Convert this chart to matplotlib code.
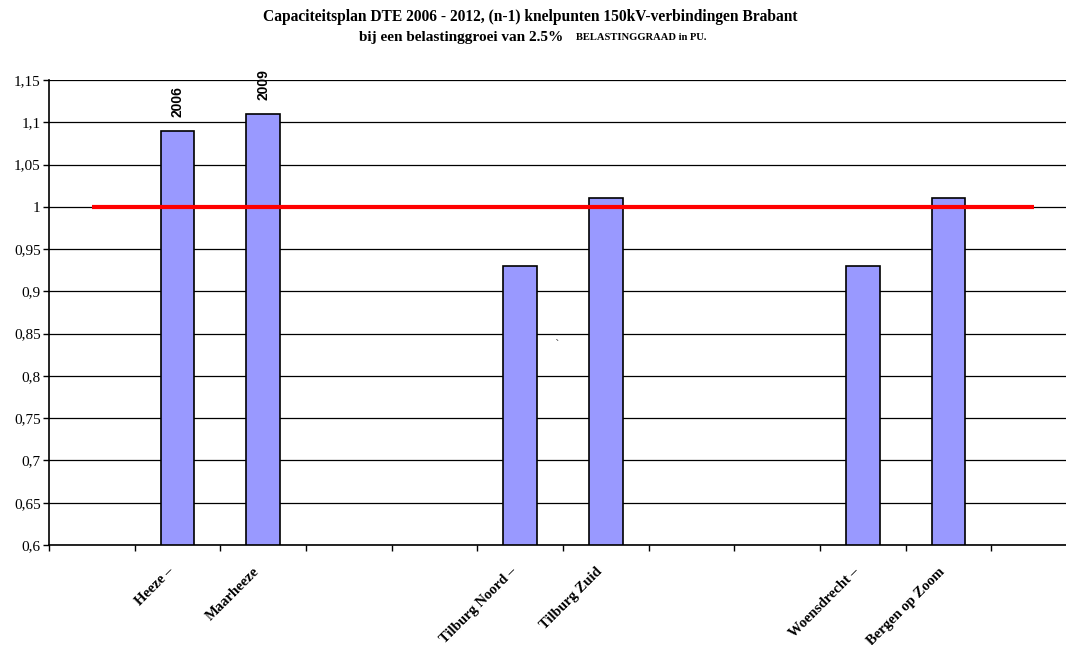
import numpy as np
import matplotlib
matplotlib.use("Agg")
import matplotlib.pyplot as plt
from matplotlib import transforms

# category slots (12 slots, only some carry a bar)
categories = ["", "Heeze –", "Maarheeze", "", "", "Tilburg Noord –", "Tilburg Zuid",
              "", "", "Woensdrecht –", "Bergen op Zoom", ""]
load_pu = [np.nan, 1.09, 1.11, np.nan, np.nan, 0.93, 1.01,
           np.nan, np.nan, 0.93, 1.01, np.nan]
limit_pu = [1.0] * 12
year_labels = {1: "2006", 2: "2009"}
y_ticks = [0.6, 0.65, 0.7, 0.75, 0.8, 0.85, 0.9, 0.95, 1.0, 1.05, 1.1, 1.15]
y_tick_labels = ["0,6", "0,65", "0,7", "0,75", "0,8", "0,85", "0,9", "0,95",
                 "1", "1,05", "1,1", "1,15"]

serif = ["Liberation Serif", "DejaVu Serif"]

fig = plt.figure(figsize=(10.66, 6.45), dpi=100)
ax = fig.add_axes([49 / 1066, 1 - 545 / 645, (1077 - 49) / 1066, (545 - 80) / 645])

x = np.arange(len(categories))
vals = np.array(load_pu)
mask = ~np.isnan(vals)
ax.bar(x[mask], vals[mask] - 0.6, bottom=0.6, width=0.39, color="#9999FF",
       edgecolor="black", linewidth=1.2, zorder=3)
ax.plot(x, limit_pu, color="#FF0000", linewidth=3, solid_capstyle="butt", zorder=4)

for i, yr in year_labels.items():
    ax.annotate(yr, (x[i], load_pu[i]), xytext=(0, 10), textcoords="offset points",
                rotation=90, ha="center", va="bottom", fontsize=10,
                fontweight="bold", family="Liberation Sans")

# stray mark in the original
ax.text(5.43, 0.837, "`", fontsize=8, color="#444444", ha="center", va="center")

ax.set_xlim(-0.5, len(categories) - 0.5)
ax.set_ylim(0.6, 1.15)
ax.set_yticks(y_ticks)
ax.set_yticklabels(y_tick_labels, family=serif, fontsize=11)
ax.yaxis.grid(True, color="black", linewidth=0.9)
ax.set_axisbelow(True)

ax.set_xticks(np.arange(len(categories) + 1) - 0.5)
ax.set_xticklabels([])
shift = transforms.ScaledTranslation(0, -0.2, fig.dpi_scale_trans)
for i, lab in enumerate(categories):
    if lab:
        ax.text(x[i] - 0.12, 0.6, lab, transform=ax.transData + shift, rotation=45,
                rotation_mode="anchor", ha="right", va="top", fontsize=10.5,
                fontweight="bold", family=serif)

ax.tick_params(axis="both", direction="out", length=4, width=1, color="black")
ax.tick_params(axis="y", pad=2)
for side in ["top", "right"]:
    ax.spines[side].set_visible(False)
ax.spines["left"].set_linewidth(1.2)
ax.spines["bottom"].set_linewidth(1.2)

fig.text(530 / 1066, 1 - 17 / 645,
         "Capaciteitsplan DTE 2006 - 2012, (n-1) knelpunten 150kV-verbindingen Brabant",
         ha="center", va="center", fontsize=11.2, fontweight="bold", family=serif)
fig.text(563 / 1066, 1 - 37 / 645, "bij een belastinggroei van 2.5%",
         ha="right", va="center", fontsize=11, fontweight="bold", family=serif)
fig.text(576 / 1066, 1 - 38 / 645, "BELASTINGGRAAD in PU.",
         ha="left", va="center", fontsize=7.6, fontweight="bold", family=serif)

fig.savefig("out.png", dpi=100)
